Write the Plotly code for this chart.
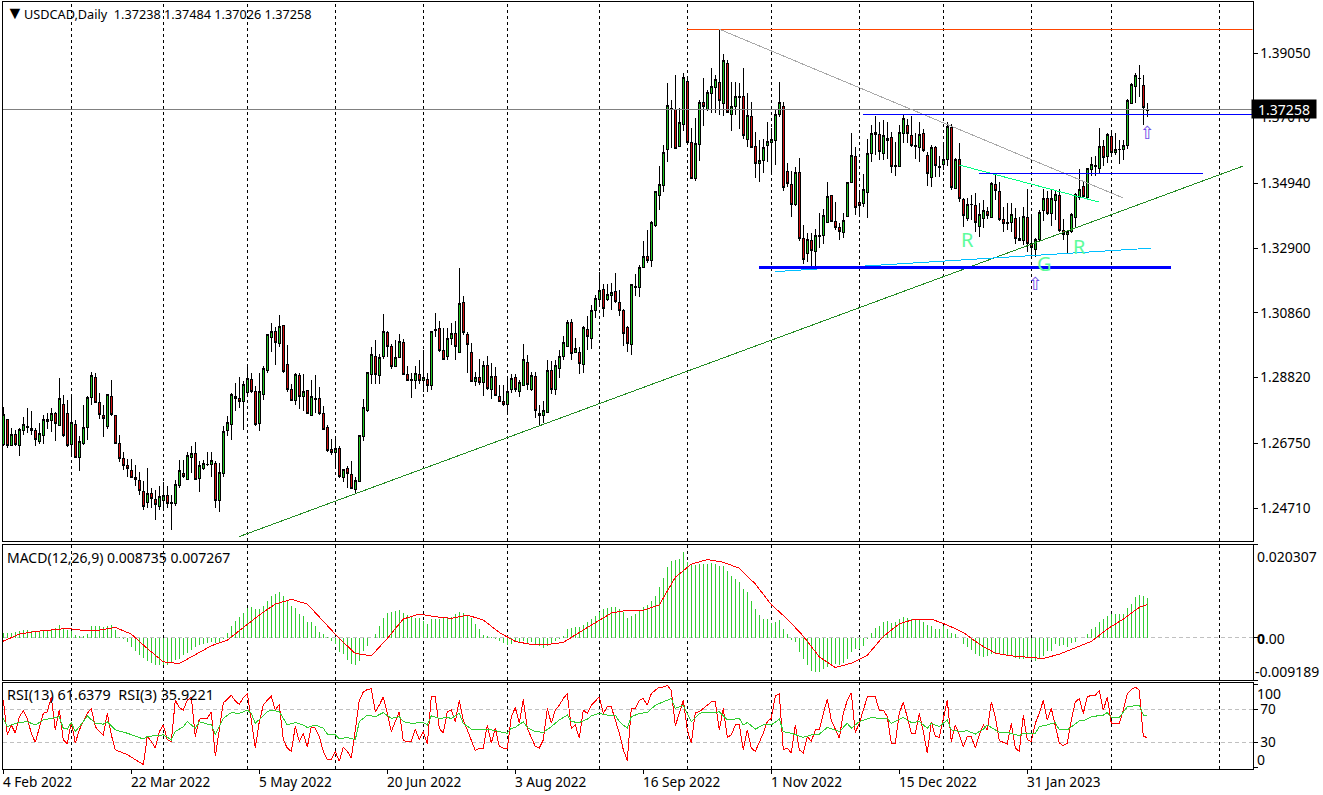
import plotly.graph_objects as go

W, H = 1323, 795

symbol_title = "USDCAD,Daily  1.37238 1.37484 1.37026 1.37258"
macd_title = "MACD(12,26,9) 0.008735 0.007267"
rsi_title = "RSI(13) 61.6379  RSI(3) 35.9221"

date_labels = ["4 Feb 2022", "22 Mar 2022", "5 May 2022", "20 Jun 2022", "3 Aug 2022",
               "16 Sep 2022", "1 Nov 2022", "15 Dec 2022", "31 Jan 2023"]
date_bars = [0, 32, 64, 96, 128, 160, 192, 224, 256]
separator_bars = [17, 40, 61, 83, 105, 126, 149, 171, 192, 214, 235, 257, 277, 304]
price_ticks = [1.39050, 1.37010, 1.34940, 1.32900, 1.30860, 1.28820, 1.26750, 1.24710]

opens = [
 1.2670,1.2749,1.2669,1.2704,1.2669,1.2716,1.2729,1.2723,1.2716,1.2682,
 1.2700,1.2744,1.2748,1.2770,1.2731,1.2798,1.2770,1.2671,1.2735,1.2630,
 1.2673,1.2726,1.2819,1.2883,1.2805,1.2764,1.2728,1.2824,1.2764,1.2675,
 1.2628,1.2606,1.2590,1.2568,1.2559,1.2524,1.2487,1.2518,1.2499,1.2477,
 1.2496,1.2512,1.2487,1.2485,1.2543,1.2581,1.2561,1.2630,1.2644,1.2565,
 1.2594,1.2607,1.2609,1.2612,1.2495,1.2581,1.2715,1.2735,1.2817,1.2815,
 1.2807,1.2835,1.2877,1.2839,1.2738,1.2830,1.2904,1.3009,1.3028,1.2991,
 1.3045,1.2924,1.2843,1.2811,1.2890,1.2822,1.2840,1.2763,1.2817,1.2817,
 1.2770,1.2726,1.2654,1.2646,1.2657,1.2567,1.2597,1.2578,1.2529,1.2555,
 1.2696,1.2777,1.2893,1.2950,1.2889,1.2950,1.3025,1.2981,1.2917,1.2946,
 1.2994,1.2893,1.2876,1.2873,1.2893,1.2873,1.2877,1.2857,1.3035,1.3038,
 1.2966,1.2948,1.3006,1.3022,1.2962,1.3119,1.3018,1.2962,1.2871,1.2883,
 1.2867,1.2921,1.2845,1.2887,1.2822,1.2808,1.2797,1.2845,1.2883,1.2838,
 1.2857,1.2931,1.2843,1.2887,1.2770,1.2763,1.2772,1.2905,1.2843,1.2911,
 1.2948,1.2980,1.3057,1.2961,1.2962,1.2924,1.3035,1.3005,1.3093,1.3127,
 1.3161,1.3128,1.3142,1.3154,1.3120,1.3095,1.3041,1.2987,1.3166,1.3166,
 1.3229,1.3265,1.3252,1.3361,1.3457,1.3487,1.3602,1.3729,1.3726,1.3610,
 1.3679,1.3816,1.3623,1.3509,1.3616,1.3750,1.3726,1.3777,1.3796,1.3813,
 1.3746,1.3873,1.3712,1.3736,1.3767,1.3769,1.3633,1.3706,1.3611,1.3558,
 1.3566,1.3612,1.3623,1.3629,1.3711,1.3737,1.3532,1.3491,1.3428,1.3529,
 1.3320,1.3274,1.3315,1.3279,1.3331,1.3330,1.3372,1.3455,1.3375,1.3355,
 1.3340,1.3390,1.3498,1.3580,1.3435,1.3432,1.3466,1.3589,1.3649,1.3649,
 1.3589,1.3630,1.3639,1.3549,1.3547,1.3652,1.3677,1.3646,1.3614,1.3608,
 1.3652,1.3583,1.3513,1.3608,1.3548,1.3554,1.3570,1.3671,1.3479,1.3570,
 1.3442,1.3384,1.3428,1.3423,1.3358,1.3384,1.3407,1.3386,1.3492,1.3469,
 1.3381,1.3368,1.3371,1.3382,1.3319,1.3313,1.3388,1.3306,1.3287,1.3316,
 1.3410,1.3447,1.3399,1.3440,1.3455,1.3347,1.3333,1.3341,1.3386,1.3450,
 1.3483,1.3449,1.3539,1.3551,1.3541,1.3611,1.3578,1.3643,1.3592,1.3601,
 1.3601,1.3613,1.3747,1.3799,1.3826,1.3803,1.37238]
highs = [
 1.2789,1.2751,1.2723,1.2718,1.2722,1.2757,1.2786,1.2778,1.2723,1.2738,
 1.2765,1.2770,1.2786,1.2775,1.2880,1.2828,1.2810,1.2822,1.2749,1.2699,
 1.2796,1.2825,1.2901,1.2898,1.2833,1.2796,1.2830,1.2875,1.2765,1.2701,
 1.2649,1.2625,1.2625,1.2607,1.2586,1.2555,1.2597,1.2534,1.2529,1.2539,
 1.2552,1.2539,1.2513,1.2560,1.2623,1.2623,1.2649,1.2665,1.2680,1.2618,
 1.2623,1.2646,1.2649,1.2618,1.2612,1.2730,1.2762,1.2833,1.2864,1.2885,
 1.2870,1.2917,1.2896,1.2854,1.2896,1.2917,1.3019,1.3054,1.3040,1.3080,
 1.3048,1.2985,1.2861,1.2896,1.2896,1.2893,1.2844,1.2875,1.2889,1.2851,
 1.2791,1.2733,1.2688,1.2691,1.2665,1.2594,1.2604,1.2620,1.2568,1.2702,
 1.2814,1.2901,1.2980,1.3001,1.2956,1.3082,1.3029,1.2987,1.3001,1.3019,
 1.3004,1.2917,1.2896,1.2917,1.2938,1.2970,1.2896,1.3030,1.3085,1.3059,
 1.3038,1.3038,1.3054,1.3059,1.3227,1.3138,1.3027,1.2991,1.2901,1.2941,
 1.2933,1.2951,1.2927,1.2915,1.2859,1.2858,1.2885,1.2894,1.2894,1.2875,
 1.2987,1.2954,1.2901,1.2901,1.2796,1.2807,1.2938,1.2933,1.2938,1.2969,
 1.3014,1.3064,1.3066,1.3006,1.2980,1.3045,1.3077,1.3111,1.3143,1.3214,
 1.3177,1.3177,1.3179,1.3211,1.3158,1.3097,1.3045,1.3177,1.3209,1.3237,
 1.3313,1.3348,1.3377,1.3471,1.3549,1.3615,1.3810,1.3757,1.3836,1.3731,
 1.3841,1.3831,1.3668,1.3699,1.3757,1.3825,1.3788,1.3857,1.3836,1.3980,
 1.3902,1.3883,1.3815,1.3815,1.3812,1.3857,1.3778,1.3752,1.3655,1.3631,
 1.3634,1.3688,1.3668,1.3726,1.3813,1.3752,1.3558,1.3533,1.3545,1.3573,
 1.3362,1.3337,1.3337,1.3350,1.3402,1.3413,1.3498,1.3458,1.3437,1.3368,
 1.3400,1.3500,1.3652,1.3610,1.3470,1.3524,1.3633,1.3678,1.3705,1.3689,
 1.3694,1.3689,1.3657,1.3626,1.3678,1.3710,1.3696,1.3705,1.3652,1.3686,
 1.3665,1.3594,1.3615,1.3612,1.3579,1.3621,1.3686,1.3681,1.3573,1.3621,
 1.3447,1.3447,1.3458,1.3463,1.3431,1.3442,1.3421,1.3497,1.3526,1.3500,
 1.3421,1.3431,1.3431,1.3416,1.3389,1.3421,1.3476,1.3389,1.3321,1.3410,
 1.3476,1.3471,1.3476,1.3470,1.3476,1.3381,1.3347,1.3400,1.3463,1.3539,
 1.3500,1.3542,1.3578,1.3581,1.3668,1.3631,1.3654,1.3657,1.3652,1.3631,
 1.3631,1.3759,1.3810,1.3843,1.3867,1.3836,1.37484]
lows = [
 1.2665,1.2659,1.2665,1.2667,1.2636,1.2702,1.2707,1.2702,1.2665,1.2673,
 1.2673,1.2720,1.2712,1.2683,1.2728,1.2694,1.2663,1.2634,1.2629,1.2589,
 1.2670,1.2686,1.2796,1.2801,1.2751,1.2696,1.2720,1.2762,1.2673,1.2615,
 1.2591,1.2568,1.2565,1.2539,1.2513,1.2465,1.2471,1.2471,1.2432,1.2465,
 1.2471,1.2471,1.2403,1.2476,1.2533,1.2565,1.2558,1.2581,1.2558,1.2522,
 1.2591,1.2604,1.2570,1.2471,1.2460,1.2568,1.2699,1.2686,1.2778,1.2786,
 1.2718,1.2831,1.2833,1.2730,1.2715,1.2812,1.2898,1.2964,1.2922,1.2980,
 1.2898,1.2838,1.2807,1.2796,1.2784,1.2777,1.2767,1.2760,1.2770,1.2765,
 1.2718,1.2649,1.2639,1.2602,1.2565,1.2552,1.2534,1.2531,1.2518,1.2552,
 1.2681,1.2775,1.2863,1.2863,1.2863,1.2940,1.2948,1.2908,1.2914,1.2943,
 1.2891,1.2870,1.2819,1.2845,1.2861,1.2838,1.2836,1.2843,1.3011,1.2963,
 1.2938,1.2936,1.2985,1.2938,1.2959,1.3017,1.2898,1.2869,1.2856,1.2859,
 1.2823,1.2843,1.2814,1.2823,1.2804,1.2791,1.2770,1.2835,1.2838,1.2820,
 1.2856,1.2843,1.2841,1.2754,1.2730,1.2739,1.2770,1.2831,1.2828,1.2880,
 1.2938,1.2980,1.2938,1.2959,1.2894,1.2896,1.2969,1.2972,1.3069,1.3111,
 1.3074,1.3122,1.3095,1.3116,1.3077,1.2982,1.2964,1.2954,1.3140,1.3137,
 1.3227,1.3243,1.3229,1.3358,1.3410,1.3468,1.3560,1.3605,1.3602,1.3608,
 1.3660,1.3621,1.3507,1.3503,1.3566,1.3675,1.3723,1.3717,1.3715,1.3710,
 1.3705,1.3715,1.3660,1.3710,1.3665,1.3633,1.3608,1.3605,1.3510,1.3497,
 1.3526,1.3562,1.3528,1.3552,1.3704,1.3470,1.3482,1.3389,1.3423,1.3311,
 1.3239,1.3246,1.3232,1.3230,1.3290,1.3302,1.3369,1.3371,1.3347,1.3316,
 1.3321,1.3387,1.3495,1.3395,1.3390,1.3421,1.3384,1.3563,1.3584,1.3568,
 1.3568,1.3570,1.3526,1.3518,1.3545,1.3621,1.3621,1.3610,1.3570,1.3563,
 1.3594,1.3486,1.3484,1.3513,1.3513,1.3537,1.3549,1.3473,1.3476,1.3434,
 1.3358,1.3374,1.3379,1.3342,1.3324,1.3353,1.3381,1.3384,1.3442,1.3376,
 1.3342,1.3347,1.3342,1.3303,1.3311,1.3300,1.3279,1.3263,1.3261,1.3313,
 1.3374,1.3395,1.3360,1.3379,1.3342,1.3316,1.3274,1.3337,1.3358,1.3442,
 1.3447,1.3447,1.3516,1.3516,1.3526,1.3549,1.3557,1.3584,1.3584,1.3555,
 1.3568,1.3602,1.3744,1.3746,1.3765,1.3678,1.37026]
closes = [
 1.2767,1.2669,1.2704,1.2671,1.2720,1.2735,1.2725,1.2716,1.2688,1.2707,
 1.2751,1.2751,1.2770,1.2738,1.2817,1.2699,1.2668,1.2742,1.2630,1.2682,
 1.2726,1.2820,1.2890,1.2805,1.2767,1.2753,1.2828,1.2765,1.2675,1.2627,
 1.2605,1.2594,1.2567,1.2561,1.2527,1.2477,1.2518,1.2501,1.2482,1.2507,
 1.2512,1.2485,1.2485,1.2546,1.2590,1.2570,1.2635,1.2644,1.2560,1.2606,
 1.2612,1.2609,1.2622,1.2495,1.2584,1.2713,1.2739,1.2828,1.2823,1.2807,
 1.2859,1.2880,1.2838,1.2733,1.2837,1.2912,1.3017,1.3028,1.2994,1.3044,
 1.2901,1.2845,1.2810,1.2893,1.2822,1.2839,1.2769,1.2824,1.2813,1.2769,
 1.2720,1.2652,1.2646,1.2660,1.2570,1.2591,1.2581,1.2534,1.2558,1.2699,
 1.2789,1.2899,1.2955,1.2893,1.2946,1.3028,1.2981,1.2917,1.2946,1.2997,
 1.2893,1.2873,1.2874,1.2896,1.2873,1.2883,1.2858,1.3028,1.3030,1.2966,
 1.2939,1.3006,1.3022,1.2980,1.3117,1.3024,1.2987,1.2871,1.2883,1.2867,
 1.2919,1.2848,1.2887,1.2826,1.2807,1.2797,1.2839,1.2880,1.2843,1.2865,
 1.2940,1.2859,1.2888,1.2778,1.2763,1.2777,1.2905,1.2843,1.2919,1.2950,
 1.2994,1.3057,1.2959,1.2975,1.2925,1.3039,1.3011,1.3095,1.3132,1.3157,
 1.3101,1.3145,1.3151,1.3121,1.3093,1.3022,1.2988,1.3176,1.3169,1.3230,
 1.3265,1.3250,1.3372,1.3469,1.3491,1.3592,1.3740,1.3726,1.3605,1.3687,
 1.3828,1.3623,1.3511,1.3620,1.3750,1.3736,1.3781,1.3800,1.3822,1.3755,
 1.3882,1.3718,1.3736,1.3769,1.3764,1.3645,1.3709,1.3608,1.3558,1.3567,
 1.3608,1.3627,1.3633,1.3712,1.3750,1.3481,1.3493,1.3428,1.3529,1.3320,
 1.3253,1.3318,1.3282,1.3330,1.3328,1.3392,1.3454,1.3373,1.3355,1.3342,
 1.3378,1.3498,1.3583,1.3417,1.3424,1.3476,1.3589,1.3652,1.3655,1.3595,
 1.3646,1.3636,1.3547,1.3547,1.3655,1.3699,1.3652,1.3614,1.3610,1.3649,
 1.3598,1.3526,1.3608,1.3551,1.3544,1.3570,1.3674,1.3481,1.3570,1.3447,
 1.3393,1.3429,1.3426,1.3372,1.3397,1.3410,1.3392,1.3495,1.3471,1.3379,
 1.3368,1.3370,1.3395,1.3321,1.3315,1.3391,1.3306,1.3292,1.3318,1.3403,
 1.3447,1.3399,1.3447,1.3458,1.3345,1.3333,1.3341,1.3397,1.3459,1.3476,
 1.3452,1.3540,1.3555,1.3547,1.3611,1.3576,1.3649,1.3592,1.3600,1.3602,
 1.3614,1.3756,1.3806,1.3833,1.3824,1.3734,1.37258]

macd_main = [
 .00102,.00095,.00109,.00124,.00138,.00160,.00160,.00146,.00138,.00146,
 .00153,.00167,.00189,.00218,.00269,.00204,.00175,.00153,.00051,.00029,
 .00044,.00087,.00262,.00262,.00248,.00240,.00255,.00277,.00175,.00015,
 -.00029,-.00087,-.00211,-.00291,-.00364,-.00437,-.00495,-.00546,-.00597,-.00597,
 -.00582,-.00582,-.00524,-.00473,-.00451,-.00379,-.00328,-.00255,-.00197,-.00160,
 -.00131,-.00109,-.00095,-.00109,-.00109,-.00036,.00095,.00248,.00371,.00444,
 .00539,.00641,.00662,.00626,.00626,.00699,.00808,.00903,.00954,.00990,
 .00903,.00830,.00699,.00648,.00517,.00466,.00349,.00349,.00248,.00116,
 .00080,.00007,-.00066,-.00138,-.00320,-.00357,-.00480,-.00575,-.00597,-.00502,
 -.00284,-.00175,.00000,.00080,.00262,.00430,.00539,.00568,.00590,.00604,
 .00539,.00495,.00466,.00422,.00422,.00371,.00298,.00408,.00408,.00408,
 .00444,.00459,.00444,.00517,.00568,.00539,.00495,.00422,.00298,.00189,
 .00058,.00029,.00022,-.00029,-.00066,-.00116,-.00160,-.00138,-.00102,-.00087,
 -.00073,-.00124,-.00087,-.00138,-.00189,-.00233,-.00175,-.00116,-.00066,-.00029,
 .00044,.00189,.00204,.00226,.00240,.00277,.00335,.00408,.00480,.00568,
 .00626,.00655,.00670,.00677,.00626,.00553,.00422,.00480,.00524,.00604,
 .00662,.00713,.00808,.00903,.01099,.01296,.01536,.01682,.01696,.01718,
 .01864,.01660,.01587,.01587,.01609,.01602,.01609,.01623,.01609,.01572,
 .01572,.01463,.01340,.01281,.01208,.01063,.00990,.00808,.00626,.00495,
 .00408,.00408,.00320,.00335,.00393,.00189,.00080,-.00044,-.00087,-.00306,
 -.00451,-.00597,-.00721,-.00743,-.00735,-.00670,-.00633,-.00597,-.00575,-.00582,
 -.00539,-.00451,-.00320,-.00248,-.00248,-.00175,-.00029,.00102,.00204,.00262,
 .00349,.00371,.00320,.00335,.00408,.00444,.00437,.00408,.00386,.00386,
 .00335,.00277,.00248,.00189,.00189,.00248,.00189,.00102,.00073,-.00015,
 -.00138,-.00211,-.00262,-.00357,-.00393,-.00408,-.00393,-.00357,-.00335,-.00357,
 -.00357,-.00379,-.00393,-.00430,-.00466,-.00451,-.00430,-.00480,-.00502,-.00451,
 -.00393,-.00284,-.00284,-.00146,-.00175,-.00160,-.00211,-.00116,-.00102,-.00015,
 .00000,.00073,.00189,.00226,.00335,.00408,.00466,.00517,.00517,.00517,
 .00517,.00641,.00735,.00881,.00932,.00917,.008735]

signal_bars = list(range(0, 287, 4)) + [286]
macd_signal = [
 -.00073,.00080,.00138,.00175,.00204,.00160,.00167,.00226,.00080,-.00233,
 -.00524,-.00561,-.00371,-.00175,-.00051,.00226,.00495,.00735,.00837,.00735,
 .00371,-.00015,-.00342,-.00393,-.00015,.00408,.00517,.00459,.00422,.00495,
 .00386,.00116,-.00080,-.00146,-.00146,-.00102,.00116,.00335,.00539,.00597,
 .00597,.00713,.01318,.01602,.01704,.01645,.01514,.01172,.00721,.00408,
 .00036,-.00415,-.00648,-.00553,-.00379,.00029,.00306,.00408,.00408,.00277,
 .00116,-.00138,-.00335,-.00393,-.00430,-.00451,-.00357,-.00226,-.00080,.00189,
 .00408,.00662,.007267]

rsi3 = [
 81,39,51,41,61,68,59,41,30,49,65,67,85,45,69,33,28,55,29,45,
 55,65,71,49,43,39,65,39,21,19,17,15,12,9,6,3,37,31,23,43,
 51,33,31,81,72,69,81,85,37,58,59,59,67,13,45,78,82,87,80,76,
 84,89,57,23,55,75,81,86,69,76,33,23,19,49,31,41,24,49,47,37,
 19,9,9,19,7,24,19,11,45,81,91,94,95,67,75,85,65,43,55,67,
 32,31,31,46,33,43,28,85,85,47,41,67,69,55,81,57,45,33,20,23,
 23,51,29,47,25,23,22,61,72,53,82,47,37,25,23,33,71,53,69,75,
 83,89,47,51,35,69,65,75,80,85,65,73,73,57,41,21,8,71,71,81,
 83,75,89,93,97,97,99,93,50,65,81,45,29,66,67,71,75,79,79,45,
 71,36,39,51,51,21,45,23,19,29,41,55,59,86,89,21,23,17,51,21,
 17,37,31,45,45,65,82,57,45,35,65,81,90,42,53,69,85,85,85,69,
 69,61,29,29,65,79,59,41,41,65,43,17,55,37,36,59,81,31,51,39,
 25,37,37,23,39,51,45,79,61,32,30,28,53,23,19,63,33,31,53,65,
 81,57,71,49,29,26,29,57,79,83,65,85,87,87,93,69,85,53,53,53,
 69,89,94,97,93,37,35.9221]

rsi13_bars = [
 0,1,3,4,6,8,10,12,14,15,16,17,18,20,21,23,25,26,28,31,35,36,39,40,42,43,45,46,48,49,
 51,52,53,55,57,59,61,62,63,64,66,67,69,70,71,73,75,76,78,80,81,83,84,86,88,89,91,93,95,97,
 99,100,102,105,106,107,109,111,112,114,115,117,119,121,124,126,127,128,130,131,133,135,137,139,141,142,144,
 146,147,149,151,153,154,156,157,159,161,163,165,167,168,170,171,172,174,175,178,179,181,184,185,186,188,190,
 192,194,195,197,200,202,204,206,209,211,212,214,217,219,221,222,225,227,229,231,232,234,236,237,239,241,243,245,246,
 249,251,254,255,258,259,261,263,264,266,269,270,272,275,276,277,279,281,284,285,286]
rsi13 = [
 59,49,53,54,55,51,57,59,61,47,46,54,43,55,62,53,52,55,45,41,34,37,39,39,33,43,49,55,47,55,
 52,52,39,59,66,65,69,65,53,58,67,69,67,59,51,54,51,48,51,47,40,39,34,36,33,55,63,61,66,59,
 61,55,53,54,51,62,59,60,59,65,53,46,46,46,43,41,47,48,55,48,43,42,49,57,63,55,54,
 58,62,65,63,63,55,47,61,65,66,75,79,83,71,75,65,55,65,66,66,67,57,59,51,54,46,51,
 51,58,43,41,36,39,40,48,43,53,47,55,60,59,59,53,60,54,55,47,53,49,57,45,43,44,40,46,51,
 42,42,38,41,41,49,51,54,45,45,56,56,61,63,66,60,60,73,75,63,61.6379]

top_level = 1.39800
last_price = 1.37258
res_level = 1.37112
neck_level = 1.35258
sup_level = 1.32278
falling_bars = [179, 280]
falling_vals = [1.39800, 1.34480]
trend_bars = [59, 310]
trend_vals = [1.23810, 1.35490]
base_bars = [193, 287]
base_vals = [1.32160, 1.32900]
neck_bars = [239, 274]
neck_vals = [1.35520, 1.34350]

FONT = "Noto Sans"
FS = 13.6

def dom(top, bot):
    return [1 - bot / H, 1 - top / H]

def py(p):
    return 1 - p / H

def px(p):
    return p / W

x_dom = [px(2.5), px(1252.5)]
x_rng = [(2.5 - 3.3) / 4, (1252.5 - 3.3) / 4]
bars = list(range(len(opens)))

fig = go.Figure()
fig.add_trace(go.Candlestick(
    x=bars, open=opens, high=highs, low=lows, close=closes,
    increasing=dict(line=dict(color="black", width=1), fillcolor="#22c522"),
    decreasing=dict(line=dict(color="black", width=1), fillcolor="#d01010"),
    whiskerwidth=0, xaxis="x", yaxis="y", showlegend=False))

def seg(xs, ys, color, width, xa="x", ya="y"):
    fig.add_trace(go.Scatter(x=xs, y=ys, mode="lines", xaxis=xa, yaxis=ya,
                             line=dict(color=color, width=width), showlegend=False,
                             hoverinfo="skip"))

last = x_rng[1]
seg([171, last], [top_level, top_level], "#ff4500", 1)
seg([x_rng[0], last], [last_price, last_price], "#808080", 1)
seg(falling_bars, falling_vals, "#a9a9a9", 1)
seg(trend_bars, trend_vals, "#228b22", 1)
seg(neck_bars, neck_vals, "#00ff7f", 1)
seg(base_bars, base_vals, "#00bfff", 1)
seg([215, last], [res_level, res_level], "#0000ff", 1)
seg([244, 300], [neck_level, neck_level], "#0000ff", 1)
seg([189, 292], [sup_level, sup_level], "#0000ff", 3)

stem_x, stem_y = [], []
for b, v in zip(bars, macd_main):
    stem_x += [b, b, None]
    stem_y += [0, v, None]
seg(stem_x, stem_y, "#32cd32", 1, "x2", "y2")
seg(signal_bars, macd_signal, "#ff0000", 1, "x2", "y2")
seg(bars, rsi3, "#ff0000", 1, "x3", "y3")
seg(rsi13_bars, rsi13, "#32cd32", 1, "x3", "y3")

shapes = []
for r in ("y", "y2", "y3"):
    for b in separator_bars:
        shapes.append(dict(type="line", layer="below", xref="x" if r == "y" else "x" + r[1],
                           yref=r + " domain", x0=b, x1=b, y0=0, y1=1,
                           line=dict(color="black", width=1, dash="3px,3px")))
for val, r, xr in ((0, "y2", "x2"), (70, "y3", "x3"), (30, "y3", "x3")):
    shapes.append(dict(type="line", layer="below", xref=xr + " domain", yref=r, x0=0, x1=1, y0=val, y1=val,
                       line=dict(color="#c0c0c0", width=1, dash="4px,3px")))

def note(text, x, y, size=FS, color="black", xanchor="left", family=FONT, **kw):
    return dict(text=text, xref="paper", yref="paper", x=px(x), y=py(y), xanchor=xanchor,
                yanchor="middle", showarrow=False, font=dict(family=family, size=size, color=color), **kw)

annotations = [
    note("▼", 4, 12, size=18),
    note(symbol_title.replace("  ", "&nbsp;&nbsp;"), 22, 14, size=12.7),
    note(macd_title, 5, 557, size=14),
    note(rsi_title.replace("  ", "&nbsp;&nbsp;"), 5, 694, size=14.4),
    note("0.020307", 1255, 556, size=14),
    note("<b>0</b>.00", 1255, 638, size=14),
    note("-0.009189", 1253, 671, size=14),
    note("100", 1255, 693, size=14),
    note("0", 1255, 759, size=14),
    note("R", 967, 240, size=20, color="#5dfc9a", xanchor="center"),
    note("G", 1044, 264, size=20, color="#5dfc9a", xanchor="center"),
    note("R", 1079, 247, size=20, color="#5dfc9a", xanchor="center"),
    note("⇧", 1035, 284, size=18, color="#7050e8", xanchor="center", family="DejaVu Sans"),
    note("⇧", 1147, 133, size=18, color="#7050e8", xanchor="center", family="DejaVu Sans"),
    note("1.37258", 1284, 109.5, size=14, color="white", xanchor="center", bgcolor="black",
         width=62, height=16),
]
for lab, b in zip(date_labels, date_bars):
    annotations.append(dict(text=lab, xref="x3", yref="paper", x=b, y=py(781), xanchor="left", xshift=-2,
                            yanchor="middle", showarrow=False, font=dict(family=FONT, size=FS, color="black")))

axis_common = dict(showgrid=False, zeroline=False, showline=True, mirror=True, linecolor="black", linewidth=1)
tickfont = dict(family=FONT, size=FS, color="black")

fig.update_layout(
    width=W, height=H, margin=dict(l=0, r=0, t=0, b=0), paper_bgcolor="white", plot_bgcolor="white",
    showlegend=False, boxgap=0.12, shapes=shapes, annotations=annotations, hovermode=False,
    xaxis=dict(domain=x_dom, range=x_rng, anchor="y", showticklabels=False, ticks="", rangeslider=dict(visible=False), **axis_common),
    xaxis2=dict(domain=x_dom, range=x_rng, anchor="y2", showticklabels=False, ticks="", **axis_common),
    xaxis3=dict(domain=x_dom, range=x_rng, anchor="y3", showticklabels=False, ticks="outside", ticklen=4,
                tickcolor="black", tickvals=date_bars, **axis_common),
    yaxis=dict(domain=dom(1.5, 541), range=[1.3905 - (541 - 53) / 3173, 1.3905 + (53 - 1.5) / 3173], anchor="x", side="right",
               tickvals=price_ticks, ticktext=[f"{v:.5f}" for v in price_ticks], ticks="outside", ticklen=4,
               tickcolor="black", tickfont=tickfont, **axis_common),
    yaxis2=dict(domain=dom(544.5, 680), range=[-0.009189, 0.020307], anchor="x2", side="right",
                tickvals=[0.020307, 0, -0.009189], ticktext=["", "", ""], ticks="outside", ticklen=4,
                tickcolor="black", tickfont=tickfont, **axis_common),
    yaxis3=dict(domain=dom(682.5, 768.5), range=[70 - (768.5 - 709.3) / 0.825, 70 + (709.3 - 682.5) / 0.825], anchor="x3",
                side="right", tickvals=[100, 70, 30, 0], ticktext=["", "70", "30", ""], ticks="outside", ticklen=4,
                tickcolor="black", tickfont=tickfont, **axis_common),
)

assert len(opens) == len(highs) == len(lows) == len(closes) == len(macd_main) == len(rsi3) == 287, (len(opens), len(highs), len(lows), len(closes), len(macd_main), len(rsi3))
assert len(signal_bars) == len(macd_signal), (len(signal_bars), len(macd_signal))
assert len(rsi13_bars) == len(rsi13), (len(rsi13_bars), len(rsi13))

crisp = ("document.body.style.margin='0';document.body.style.overflow='hidden';"
         "var s=document.createElement('style');"
         "s.textContent='.main-svg path{shape-rendering:crispEdges}';"
         "document.head.appendChild(s);")
fig.write_html("out.html", config={"displayModeBar": False}, post_script=crisp)
